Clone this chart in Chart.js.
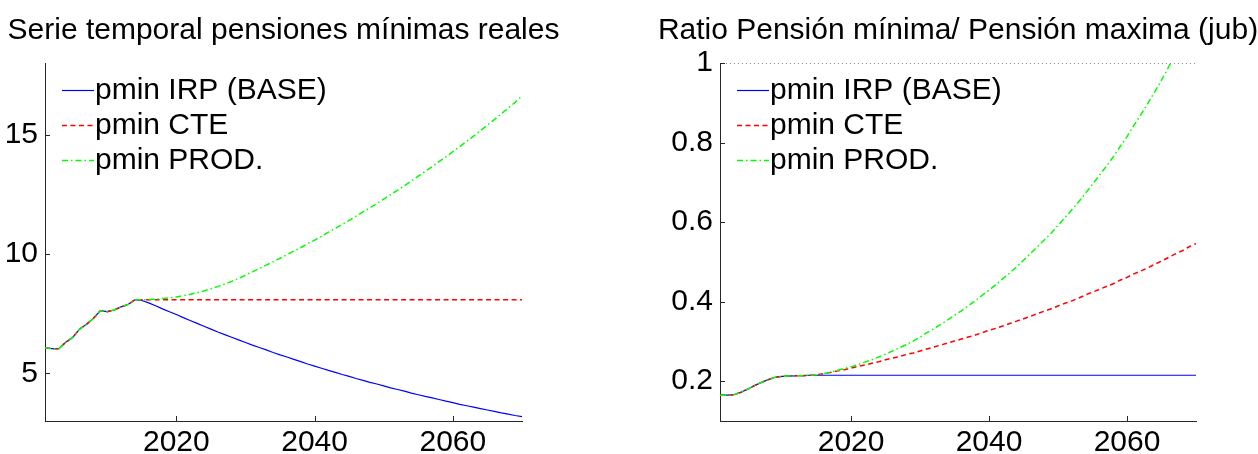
<!DOCTYPE html>
<html><head><meta charset="utf-8">
<script src="https://cdn.jsdelivr.net/npm/chart.js@4.4.1/dist/chart.umd.min.js"></script>
<style>
html,body{margin:0;padding:0;background:#fff;overflow:hidden}
#wrap{position:relative;width:1258px;height:454px;background:#fff}
canvas{position:absolute;top:0;width:629px;height:454px}
#c1{left:0}
#c2{left:629px}
</style></head><body>
<div id="wrap"><canvas id="c1" width="629" height="454"></canvas><canvas id="c2" width="629" height="454"></canvas></div>
<script>
const years = [2001,2002,2003,2004,2005,2006,2007,2008,2009,2010,2011,2012,2013,2014,2015,2016,2017,2018,2019,2020,
 2021,2022,2023,2024,2025,2026,2027,2028,2029,2030,2031,2032,2033,2034,2035,2036,2037,2038,2039,2040,
 2041,2042,2043,2044,2045,2046,2047,2048,2049,2050,2051,2052,2053,2054,2055,2056,2057,2058,2059,2060,
 2061,2062,2063,2064,2065,2066,2067,2068,2069,2070];

// Left panel: real minimum pension levels
const levelIRP = [6.07,6.03,6.03,6.30,6.50,6.85,7.05,7.30,7.62,7.58,7.65,7.78,7.88,8.08,8.05,7.95,7.83,7.70,7.58,7.46,
 7.33,7.21,7.09,6.97,6.85,6.73,6.62,6.51,6.40,6.29,6.18,6.08,5.98,5.87,5.77,5.68,5.58,5.49,5.39,5.30,
 5.21,5.12,5.04,4.95,4.87,4.78,4.70,4.62,4.55,4.47,4.39,4.32,4.25,4.17,4.10,4.03,3.97,3.90,3.83,3.77,
 3.70,3.64,3.58,3.52,3.46,3.40,3.34,3.29,3.23,3.18];
const levelCTE = [6.07,6.03,6.03,6.30,6.50,6.85,7.05,7.30,7.62,7.58,7.65,7.78,7.88,8.08,8.08,8.08,8.08,8.08,8.08,8.08,
 8.08,8.08,8.08,8.08,8.08,8.08,8.08,8.08,8.08,8.08,8.08,8.08,8.08,8.08,8.08,8.08,8.08,8.08,8.08,8.08,
 8.08,8.08,8.08,8.08,8.08,8.08,8.08,8.08,8.08,8.08,8.08,8.08,8.08,8.08,8.08,8.08,8.08,8.08,8.08,8.08,
 8.08,8.08,8.08,8.08,8.08,8.08,8.08,8.08,8.08,8.08];
const levelPROD = [6.07,6.03,6.03,6.30,6.50,6.85,7.05,7.30,7.62,7.58,7.65,7.78,7.88,8.08,8.08,8.09,8.10,8.13,8.16,8.20,
 8.25,8.31,8.38,8.45,8.54,8.63,8.74,8.85,8.97,9.11,9.25,9.39,9.53,9.67,9.82,9.97,10.12,10.27,10.43,10.58,
 10.74,10.91,11.07,11.24,11.41,11.58,11.76,11.93,12.11,12.30,12.48,12.67,12.86,13.06,13.26,13.46,13.66,13.87,14.07,14.29,
 14.50,14.72,14.94,15.17,15.40,15.63,15.87,16.11,16.35,16.62];

// Right panel: ratio minimum / maximum pension
const ratioIRP = [0.165,0.165,0.166,0.172,0.180,0.189,0.197,0.204,0.210,0.212,0.213,0.214,0.214,0.215,0.215,0.215,0.215,0.215,0.215,0.215,
 0.215,0.215,0.215,0.215,0.215,0.215,0.215,0.215,0.215,0.215,0.215,0.215,0.215,0.215,0.215,0.215,0.215,0.215,0.215,0.215,
 0.215,0.215,0.215,0.215,0.215,0.215,0.215,0.215,0.215,0.215,0.215,0.215,0.215,0.215,0.215,0.215,0.215,0.215,0.215,0.215,
 0.215,0.215,0.215,0.215,0.215,0.215,0.215,0.215,0.215,0.215];
const ratioCTE = [0.165,0.165,0.166,0.172,0.180,0.189,0.197,0.204,0.210,0.212,0.213,0.214,0.214,0.215,0.216,0.219,0.222,0.226,0.229,0.233,
 0.237,0.241,0.245,0.249,0.254,0.258,0.262,0.267,0.271,0.276,0.281,0.286,0.291,0.296,0.301,0.306,0.311,0.316,0.322,0.328,
 0.333,0.339,0.345,0.351,0.357,0.363,0.370,0.376,0.382,0.389,0.396,0.402,0.409,0.417,0.424,0.431,0.438,0.445,0.454,0.461,
 0.470,0.477,0.485,0.494,0.502,0.511,0.520,0.528,0.538,0.546];
const ratioPROD = [0.165,0.165,0.166,0.172,0.180,0.189,0.197,0.204,0.210,0.212,0.213,0.214,0.214,0.215,0.216,0.219,0.223,0.227,0.232,0.236,
 0.242,0.248,0.254,0.261,0.268,0.276,0.284,0.292,0.301,0.311,0.322,0.332,0.343,0.354,0.366,0.377,0.390,0.402,0.416,0.429,
 0.443,0.458,0.472,0.488,0.504,0.521,0.538,0.555,0.572,0.592,0.611,0.631,0.651,0.673,0.695,0.718,0.740,0.764,0.790,0.815,
 0.843,0.870,0.898,0.927,0.957,0.989,1.022,1.053,1.088,1.122];

const seriesNames = ['pmin IRP (BASE)', 'pmin CTE', 'pmin PROD.'];
const titles = ['Serie temporal pensiones mínimas reales', 'Ratio Pensión mínima/ Pensión maxima (jub)'];
const xTicks = [2020, 2040, 2060];
const levelTicks = [5, 10, 15];
const ratioTicks = [0.2, 0.4, 0.6, 0.8, 1];
const ratioRefLevel = 1;

const FONT = '"Liberation Sans", Arial, Helvetica, sans-serif';
const AXIS_COLOR = '#262626';
const styles = [
  {color: '#0000ff', dash: [], width: 1.2},
  {color: '#ff0000', dash: [5, 3.5], width: 1.5},
  {color: '#00ff00', dash: [6, 3, 1.5, 3], width: 1.5}
];

function pts(vals) { return years.map((yr, i) => ({x: yr, y: vals[i]})); }

function makeDeco(title, withRef) {
  return {
    id: 'deco',
    afterDatasetsDraw(chart) {
      const {ctx, chartArea: a, scales} = chart;
      ctx.save();
      ctx.lineWidth = 1;
      if (withRef) {
        const y = Math.round(scales.y.getPixelForValue(ratioRefLevel)) + 0.5;
        ctx.strokeStyle = '#8c8c8c';
        ctx.setLineDash([1, 3]);
        ctx.beginPath(); ctx.moveTo(a.left + 2, y); ctx.lineTo(a.right, y); ctx.stroke();
      }
      ctx.setLineDash([]);
      ctx.strokeStyle = AXIS_COLOR;
      scales.x.ticks.forEach(t => {
        const x = Math.round(scales.x.getPixelForValue(t.value)) + 0.5;
        ctx.beginPath(); ctx.moveTo(x, a.bottom); ctx.lineTo(x, a.bottom - 5); ctx.stroke();
      });
      scales.y.ticks.forEach(t => {
        const y = Math.round(scales.y.getPixelForValue(t.value)) + 0.5;
        ctx.beginPath(); ctx.moveTo(a.left, y); ctx.lineTo(a.left + 5, y); ctx.stroke();
      });
      ctx.restore();
    },
    afterDraw(chart) {
      const {ctx, chartArea: a} = chart;
      ctx.save();
      ctx.fillStyle = '#000';
      ctx.font = '30px ' + FONT;
      ctx.textAlign = 'center';
      ctx.textBaseline = 'alphabetic';
      ctx.fillText(title, (a.left + a.right) / 2, 38.5);
      ctx.textAlign = 'left';
      seriesNames.forEach((name, i) => {
        const y = 90 + i * 35;
        ctx.strokeStyle = styles[i].color;
        ctx.lineWidth = styles[i].width;
        ctx.setLineDash(styles[i].dash);
        ctx.beginPath(); ctx.moveTo(a.left + 17, y + 0.5); ctx.lineTo(a.left + 49, y + 0.5); ctx.stroke();
        ctx.fillText(name, a.left + 50, y + 8.5);
      });
      ctx.restore();
    }
  };
}

function makeChart(id, series, yMin, yMax, yTickVals, title, withRef, yWidth, padRight) {
  const datasets = series.map((vals, i) => ({
    label: seriesNames[i],
    data: pts(vals),
    borderColor: styles[i].color,
    borderDash: styles[i].dash,
    borderWidth: styles[i].width,
    pointRadius: 0,
    tension: 0,
    fill: false,
    order: 3 - i
  }));
  const tickFont = {family: FONT, size: 30};
  return new Chart(document.getElementById(id), {
    type: 'line',
    data: {datasets},
    options: {
      responsive: false,
      animation: false,
      devicePixelRatio: 1,
      events: [],
      layout: {padding: {top: 63, bottom: 0, left: 0, right: padRight}},
      plugins: {legend: {display: false}, tooltip: {enabled: false}, title: {display: false}},
      scales: {
        x: {
          type: 'linear', min: 2001, max: 2070,
          afterBuildTicks: s => { s.ticks = xTicks.map(v => ({value: v})); },
          afterFit: s => { s.height = 33; },
          grid: {display: false, drawTicks: false},
          border: {display: true, color: AXIS_COLOR, width: 1},
          ticks: {padding: 4, color: '#000', font: tickFont, maxRotation: 0, autoSkip: false, callback: v => String(v)}
        },
        y: {
          type: 'linear', min: yMin, max: yMax,
          afterBuildTicks: s => { s.ticks = yTickVals.map(v => ({value: v})); },
          afterFit: s => { s.width = yWidth; },
          grid: {display: false, drawTicks: false},
          border: {display: true, color: AXIS_COLOR, width: 1},
          ticks: {padding: 7, color: '#000', font: tickFont, autoSkip: false, callback: v => String(v)}
        }
      }
    },
    plugins: [makeDeco(title, withRef)]
  });
}

makeChart('c1', [levelIRP, levelCTE, levelPROD], 3, 18, levelTicks, titles[0], false, 45, 107);
makeChart('c2', [ratioIRP, ratioCTE, ratioPROD], 0.1, 1, ratioTicks, titles[1], true, 91, 62);
</script>
</body></html>
